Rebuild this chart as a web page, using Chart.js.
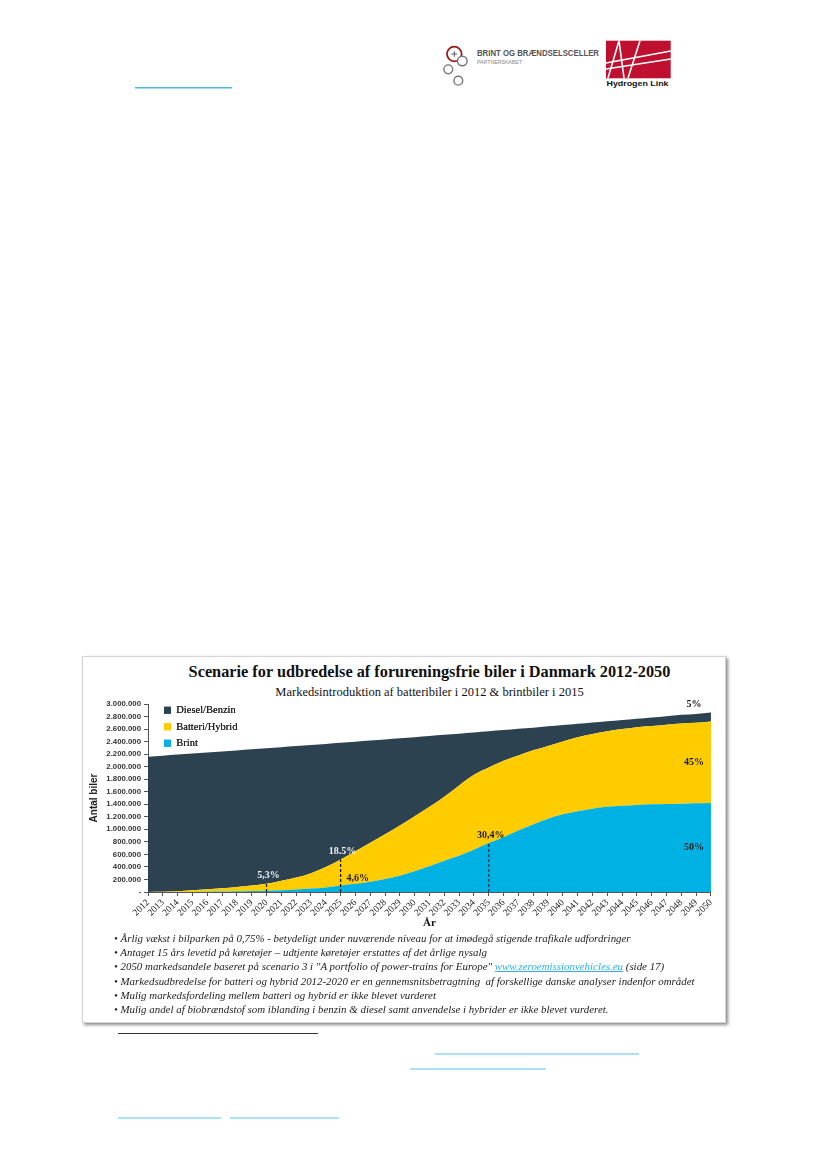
<!DOCTYPE html>
<html>
<head>
<meta charset="utf-8">
<script src="https://cdn.jsdelivr.net/npm/chart.js@4.4.1/dist/chart.umd.min.js"></script>
<style>
  body { margin: 0; background: #fff; }
  #page { position: relative; width: 827px; height: 1169px; overflow: hidden; font-family: "Liberation Serif", serif; }
  .abs { position: absolute; }
  #box { left: 82px; top: 656px; width: 642px; height: 365px; border: 1px solid #d4d4d4; box-shadow: 2px 2px 3px rgba(0,0,0,0.45); background: #fff; }
  #title { left: 129px; width: 601px; top: 663px; text-align: center; font-weight: bold; font-size: 16.3px; line-height: 18px; color: #111; white-space: nowrap; }
  #subtitle { left: 129px; width: 601px; top: 685px; text-align: center; font-size: 12.5px; line-height: 14px; color: #111; white-space: nowrap; }
  #cars { left: 84px; top: 696px; }
  #notes { left: 114px; top: 931px; font-style: italic; font-size: 10.9px; line-height: 14.2px; color: #222; white-space: nowrap; }
  #notes a { color: #2fb3e6; text-decoration: underline; }
  .rule { position: absolute; height: 2px; background: #a8e2f6; }
</style>
</head>
<body>
<div id="page">
  <!-- logos -->
  <svg class="abs" style="left:0;top:0" width="827" height="100">
    <circle cx="454.3" cy="54" r="7.3" fill="none" stroke="#9b1b1f" stroke-width="1.8"/>
    <path d="M451.5 54 h5.6 M454.3 51.2 v5.6" stroke="#555" stroke-width="1"/>
    <circle cx="462.3" cy="61" r="4.8" fill="#fff" stroke="#777" stroke-width="1.4"/>
    <circle cx="448.3" cy="69.3" r="4.4" fill="#fff" stroke="#777" stroke-width="1.4"/>
    <circle cx="458.3" cy="80.7" r="4.4" fill="#fff" stroke="#777" stroke-width="1.4"/>
    <text x="477" y="55.5" font-family="Liberation Sans" font-weight="bold" font-size="8.2" fill="#555" textLength="122" lengthAdjust="spacingAndGlyphs">BRINT OG BRÆNDSELSCELLER</text>
    <text x="477" y="63.5" font-family="Liberation Sans" font-size="5" fill="#888" textLength="45" lengthAdjust="spacingAndGlyphs">PARTNERSKABET</text>
    <rect x="606" y="40.7" width="64.7" height="37.6" fill="#c0102f"/>
    <path d="M608 78 L619 40.7 M619 40.7 L624 78 M606 63 L670.7 51 M606 69 L670.7 59 M640 40.7 L628 78" stroke="#fff" stroke-width="1.6" fill="none"/>
    <text x="606.5" y="86" font-family="Liberation Sans" font-weight="bold" font-size="7.6" fill="#111" textLength="62" lengthAdjust="spacingAndGlyphs">Hydrogen Link</text>
    <rect x="135" y="87" width="97" height="1.5" fill="#4fb8e8"/>
  </svg>

  <div id="box" class="abs"></div>
  <div id="title" class="abs">Scenarie for udbredelse af forureningsfrie biler i Danmark 2012-2050</div>
  <div id="subtitle" class="abs">Markedsintroduktion af batteribiler i 2012 &amp; brintbiler i 2015</div>
  <canvas id="cars" class="abs" width="636" height="236"></canvas>
  <div id="notes" class="abs">
    <div>• Årlig vækst i bilparken på 0,75% - betydeligt under nuværende niveau for at imødegå stigende trafikale udfordringer</div>
    <div>• Antaget 15 års levetid på køretøjer – udtjente køretøjer erstattes af det årlige nysalg</div>
    <div>• 2050 markedsandele baseret på scenario 3 i "A portfolio of power-trains for Europe" <a>www.zeroemissionvehicles.eu</a> (side 17)</div>
    <div>• Markedsudbredelse for batteri og hybrid 2012-2020 er en gennemsnitsbetragtning&nbsp; af forskellige danske analyser indenfor området</div>
    <div>• Mulig markedsfordeling mellem batteri og hybrid er ikke blevet vurderet</div>
    <div>• Mulig andel af biobrændstof som iblanding i benzin &amp; diesel samt anvendelse i hybrider er ikke blevet vurderet.</div>
  </div>

  <!-- footnote rules below the chart -->
  <div class="abs" style="left:118px;top:1033px;width:200px;height:1px;background:#333"></div>
  <div class="rule" style="left:435px;top:1053px;width:204px"></div>
  <div class="rule" style="left:410px;top:1068px;width:136px"></div>
  <div class="rule" style="left:118px;top:1117px;width:103px"></div>
  <div class="rule" style="left:230px;top:1117px;width:109px"></div>
</div>

<script>
// cars in Denmark per year, by fuel type
const years = ['2012','2013','2014','2015','2016','2017','2018','2019','2020','2021',
  '2022','2023','2024','2025','2026','2027','2028','2029','2030','2031',
  '2032','2033','2034','2035','2036','2037','2038','2039','2040','2041',
  '2042','2043','2044','2045','2046','2047','2048','2049','2050'];

const brint = [0, 0, 0, 1000, 3000, 6000, 10000, 15000, 20000, 28000,
  40000, 54000, 72000, 105000, 130000, 165000, 207000, 260000, 330000, 410000,
  500000, 580000, 675000, 780000, 875000, 980000, 1078000, 1170000, 1240000, 1290000,
  1330000, 1360000, 1375000, 1390000, 1400000, 1405000, 1410000, 1415000, 1420000];

const batteri = [0, 3000, 10000, 26000, 39000, 52000, 70000, 90000, 110000, 152000,
  190000, 246000, 328000, 415000, 520000, 620000, 713000, 800000, 880000, 950000,
  1020000, 1120000, 1195000, 1205000, 1220000, 1200000, 1182000, 1160000, 1160000, 1180000,
  1190000, 1205000, 1225000, 1240000, 1250000, 1265000, 1280000, 1285000, 1300000];

const diesel = [2160000, 2173000, 2183000, 2182000, 2184000, 2184000, 2179000, 2171000, 2163000, 2130000,
  2098000, 2045000, 1963000, 1861000, 1748000, 1631000, 1514000, 1393000, 1261000, 1130000,
  988000, 827000, 676000, 580000, 489000, 424000, 363000, 313000, 263000, 213000,
  183000, 158000, 144000, 134000, 135000, 136000, 137000, 140000, 143000];

// share markers (dataset 0 = Brint, 1 = Batteri on top of Brint)
const markYears = ['2020', '2025', '2035'];
const markSeries = [1, 1, 0];
const markLabels = ['5,3%', '18.5%', '30,4%'];
const sideYear = '2025';
const sideLabel = '4,6%';
const endLabels = ['50%', '45%', '5%'];

const DARK = '#2c4250';
const YELLOW = '#ffcc00';
const BLUE = '#00b2e3';

Chart.defaults.font.family = '"Liberation Serif", serif';

const dotted = n => String(n).replace(/\B(?=(\d{3})+(?!\d))/g, '.');

const markTextColors = ['#f2f2f2', '#f2f2f2', '#1a1a1a'];
const markLineColors = ['#222', '#111', '#1d3c55'];

const marks = {
  id: 'marks',
  afterDatasetsDraw(chart) {
    const {ctx, chartArea} = chart;
    ctx.save();
    ctx.font = 'bold 10px "Liberation Serif"';
    ctx.textBaseline = 'bottom';
    markYears.forEach((yr, i) => {
      const pt = chart.getDatasetMeta(markSeries[i]).data[years.indexOf(yr)];
      ctx.setLineDash([3, 2]);
      ctx.lineWidth = 1.3;
      ctx.strokeStyle = markLineColors[i];
      ctx.beginPath();
      ctx.moveTo(pt.x, chartArea.bottom);
      ctx.lineTo(pt.x, pt.y);
      ctx.stroke();
      ctx.fillStyle = markTextColors[i];
      ctx.textAlign = 'center';
      ctx.fillText(markLabels[i], pt.x + 2, pt.y - 3);
    });

    const b = chart.getDatasetMeta(0).data[years.indexOf(sideYear)];
    ctx.textAlign = 'left';
    ctx.fillStyle = '#1a1a1a';
    ctx.fillText(sideLabel, b.x + 6, b.y - 2);

    const last = years.length - 1;
    ctx.textBaseline = 'middle';
    ctx.textAlign = 'center';
    endLabels.forEach((t, d) => {
      const top = chart.getDatasetMeta(d).data[last];
      const base = d === 0 ? chartArea.bottom : chart.getDatasetMeta(d - 1).data[last].y;
      const y = d === 2 ? top.y - 8 : (top.y + base) / 2;
      ctx.fillText(t, top.x - 17, y);
    });
    ctx.restore();
  }
};

// legend sits inside the plot, a bit in from the corner, drawn over the areas
const legendNudge = {
  id: 'legendNudge',
  afterLayout(chart) {
    chart.legend.left += 10;
    chart.legend.top += 3;
  },
  afterDatasetsDraw(chart) {
    chart.legend.draw();
  }
};

const area = (label, data, color, fill) => ({
  label, data, fill,
  backgroundColor: color,
  borderColor: color,
  borderWidth: 0,
  pointRadius: 0,
  cubicInterpolationMode: 'monotone'
});

new Chart(document.getElementById('cars'), {
  type: 'line',
  data: {
    labels: years,
    datasets: [
      area('Brint', brint, BLUE, 'origin'),
      area('Batteri/Hybrid', batteri, YELLOW, '-1'),
      area('Diesel/Benzin', diesel, DARK, '-1')
    ]
  },
  options: {
    responsive: false,
    animation: false,
    layout: { padding: { top: 8, right: 9, left: 0, bottom: 0 }, autoPadding: false },
    scales: {
      x: {
        grid: { drawOnChartArea: false, tickLength: 4, color: '#555' },
        border: { color: '#555' },
        ticks: { autoSkip: false, minRotation: 45, maxRotation: 45, padding: 1, font: { size: 9.5 }, color: '#222' },
        title: { display: true, text: 'År', color: '#111', font: { size: 11, weight: 'bold' }, padding: { top: 0, bottom: 2 } },
        afterFit: s => { s.height = 40; }
      },
      y: {
        stacked: true,
        min: 0,
        max: 3000000,
        grid: { drawOnChartArea: false, tickLength: 4, color: '#555' },
        border: { color: '#555' },
        ticks: {
          stepSize: 200000,
          padding: 3,
          color: '#333',
          font: { family: '"Liberation Sans", sans-serif', size: 7.8, weight: 'bold' },
          callback: v => v === 0 ? '-' : dotted(v)
        },
        title: { display: true, text: 'Antal biler', color: '#222', font: { family: '"Liberation Sans", sans-serif', size: 10, weight: 'bold' }, padding: { top: 4 } },
        afterFit: s => { s.width = 64; }
      }
    },
    plugins: {
      legend: {
        position: 'chartArea',
        align: 'start',
        reverse: true,
        labels: { boxWidth: 7, boxHeight: 7, padding: 6, color: '#222', font: { size: 10.5 } }
      },
      tooltip: { enabled: false }
    }
  },
  plugins: [marks, legendNudge]
});
</script>
</body>
</html>
